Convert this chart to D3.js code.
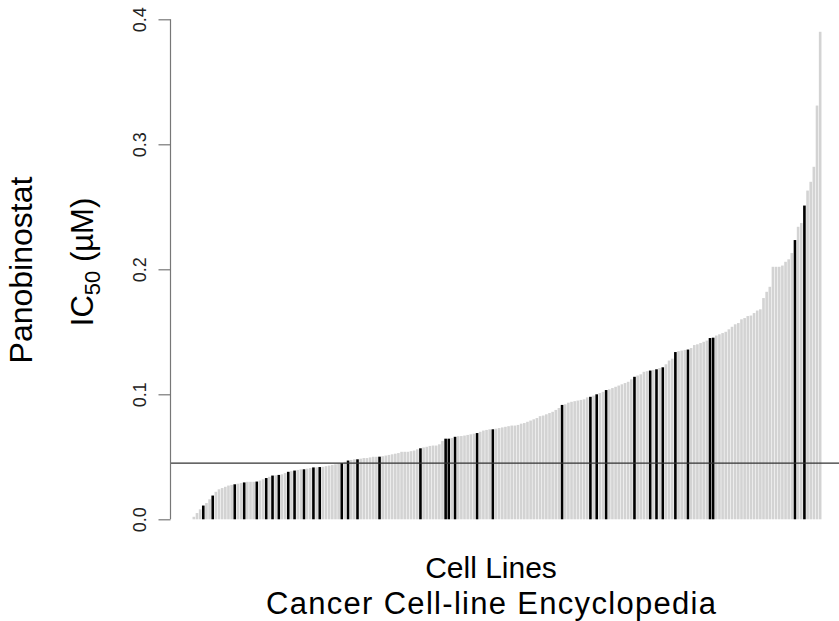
<!DOCTYPE html>
<html>
<head>
<meta charset="utf-8">
<script src="https://cdn.jsdelivr.net/npm/d3@7"></script>
<style>
  body { margin: 0; background: #fff; }
  text { font-family: "Liberation Sans", Arial, sans-serif; }
</style>
</head>
<body>
<div id="chart"></div>
<script>
// IC50 per cell line, sorted ascending (uM)
const ic50 = [
  0.002, 0.005, 0.008, 0.011, 0.013, 0.016, 0.019, 0.022, 0.024, 0.025,
  0.026, 0.027, 0.0275, 0.028, 0.0285, 0.029, 0.0295, 0.030, 0.030, 0.030,
  0.0302, 0.031, 0.032, 0.033, 0.034, 0.035, 0.0352, 0.0355, 0.036, 0.037,
  0.038, 0.0385, 0.039, 0.0395, 0.040, 0.040, 0.0405, 0.041, 0.0415, 0.0416,
  0.0418, 0.042, 0.0425, 0.043, 0.0435, 0.044, 0.0445, 0.045, 0.046, 0.047,
  0.0475, 0.048, 0.048, 0.0485, 0.049, 0.049, 0.0495, 0.050, 0.050, 0.0501,
  0.0505, 0.051, 0.0515, 0.052, 0.0525, 0.053, 0.054, 0.054, 0.054, 0.0545,
  0.055, 0.056, 0.0568, 0.0575, 0.058, 0.0587, 0.059, 0.059, 0.060, 0.0626,
  0.0645, 0.0645, 0.065, 0.066, 0.0665, 0.0666, 0.067, 0.0675, 0.068, 0.0685,
  0.069, 0.070, 0.071, 0.0715, 0.072, 0.072, 0.0725, 0.073, 0.0735, 0.074,
  0.0745, 0.075, 0.075, 0.0755, 0.0765, 0.077, 0.078, 0.079, 0.080, 0.081,
  0.0825, 0.083, 0.084, 0.085, 0.086, 0.0875, 0.089, 0.0915, 0.092, 0.0933,
  0.094, 0.0945, 0.095, 0.0955, 0.096, 0.0975, 0.098, 0.099, 0.100, 0.101,
  0.102, 0.1034, 0.104, 0.105, 0.106, 0.107, 0.108, 0.109, 0.110, 0.112,
  0.114, 0.115, 0.116, 0.118, 0.1185, 0.119, 0.1195, 0.120, 0.121, 0.1216,
  0.124, 0.127, 0.1285, 0.1338, 0.1345, 0.135, 0.1355, 0.1358, 0.137, 0.1394,
  0.140, 0.141, 0.142, 0.143, 0.145, 0.1453, 0.147, 0.148, 0.149, 0.150,
  0.152, 0.154, 0.156, 0.157, 0.160, 0.161, 0.1626, 0.163, 0.165, 0.167,
  0.168, 0.177, 0.182, 0.186, 0.202, 0.202, 0.202, 0.203, 0.206, 0.208,
  0.213, 0.2234, 0.234, 0.237, 0.251, 0.263, 0.270, 0.282, 0.331, 0.390
];

// positions (in sorted order) of the cell lines drawn in black
const highlighted = [3, 6, 13, 16, 20, 23, 25, 27, 30, 32, 35, 38, 40, 47, 49, 52,
  59, 72, 80, 81, 83, 90, 95, 117, 126, 128, 131, 140, 145, 147, 149, 153, 157,
  164, 165, 191, 194];

const yTicks = [0.0, 0.1, 0.2, 0.3, 0.4];
const cutoff = 0.045;

const width = 839, height = 621;

const svg = d3.select("#chart")
              .append("svg")
              .attr("width", width)
              .attr("height", height);

// y axis: 0 -> 0.4
const y = d3.scaleLinear()
            .domain([0, 0.4])
            .range([519.3, 19.3]);

const x = d3.scaleBand()
            .domain(d3.range(ic50.length))
            .range([192, 822])
            .padding(0.17);

const isBlack = new Set(highlighted);

svg.append("g")
   .selectAll("rect")
   .data(ic50)
   .join("rect")
   .attr("x", (d, i) => x(i))
   .attr("y", d => y(d))
   .attr("width", x.bandwidth())
   .attr("height", d => y(0) - y(d))
   .attr("fill", (d, i) => isBlack.has(i) ? "#000" : "#d3d3d3");

// horizontal reference line
svg.append("line")
   .attr("x1", 170)
   .attr("x2", width)
   .attr("y1", y(cutoff))
   .attr("y2", y(cutoff))
   .attr("stroke", "#333")
   .attr("stroke-width", 1.3);

// y axis
const yAxis = svg.append("g")
                 .attr("transform", "translate(170.5,0)")
                 .call(d3.axisLeft(y)
                         .tickValues(yTicks)
                         .tickSize(12)
                         .tickPadding(0)
                         .tickFormat(d3.format(".1f")));

yAxis.select(".domain")
     .attr("stroke", "#777")
     .attr("stroke-width", 1.2)
     .attr("d", `M0,${y(0.4)}V${y(0)}`);

yAxis.selectAll(".tick line")
     .attr("stroke", "#777")
     .attr("stroke-width", 1.2);

yAxis.selectAll(".tick text")
     .attr("x", null)
     .attr("dy", null)
     .attr("transform", "translate(-25,0) rotate(-90)")
     .attr("text-anchor", "middle")
     .attr("fill", "#222")
     .style("font-size", "18px");

// axis titles
svg.append("text")
   .attr("transform", "translate(32,270) rotate(-90)")
   .attr("text-anchor", "middle")
   .style("font-size", "32px")
   .text("Panobinostat");

const yl2 = svg.append("text")
               .attr("transform", "translate(93,262) rotate(-90)")
               .attr("text-anchor", "middle")
               .style("font-size", "31px");
yl2.append("tspan").text("IC");
yl2.append("tspan").attr("dy", 7).style("font-size", "22px").text("50");
yl2.append("tspan").attr("dy", -7).text(" (\u00b5M)");

svg.append("text")
   .attr("x", 491)
   .attr("y", 578)
   .attr("text-anchor", "middle")
   .style("font-size", "30px")
   .text("Cell Lines");

svg.append("text")
   .attr("x", 491)
   .attr("y", 614)
   .attr("text-anchor", "middle")
   .style("font-size", "31px")
   .attr("textLength", 450)
   .attr("lengthAdjust", "spacing")
   .text("Cancer Cell-line Encyclopedia");
</script>
</body>
</html>
